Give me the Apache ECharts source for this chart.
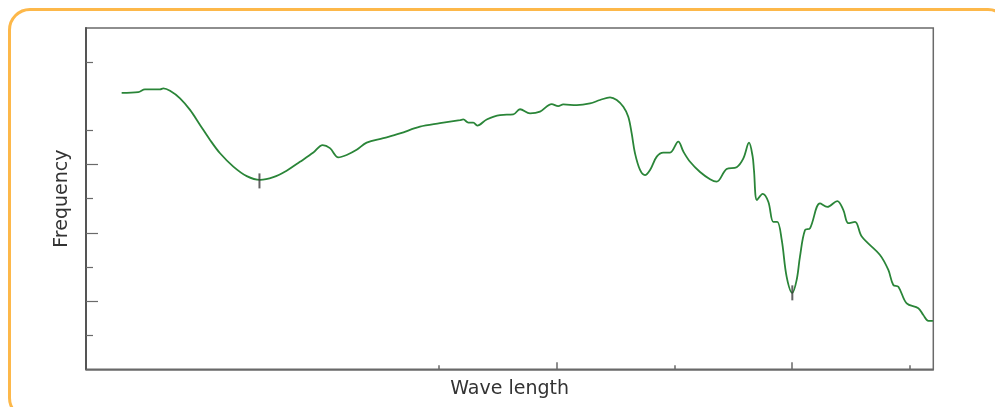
<!DOCTYPE html>
<html>
<head>
<meta charset="utf-8">
<script src="https://cdn.jsdelivr.net/npm/echarts@6/dist/echarts.min.js"></script>
<style>
html,body{margin:0;padding:0;background:#fff;overflow:hidden;}
#frame{position:absolute;left:8px;top:8px;width:1002px;height:412px;border:3px solid #FDB84A;border-radius:22px;box-sizing:border-box;}
#chart{position:absolute;left:0;top:0;width:995px;height:407px;}
</style>
</head>
<body>
<div id="frame"></div>
<div id="chart"></div>
<script>
// Spectrum trace: wave length (x) vs frequency (y)
const waveLength = [30.3,44.4,50.1,62.9,65.7,71.4,79.9,88.4,96.9,105.4,113.9,125.2,136.6,147.9,159.2,170.5,181.8,193.2,201.1,207.3,214.4,221.5,230.0,238.5,252.6,266.8,283.8,300.8,317.8,320.6,324.9,329.1,332.5,340.5,351.8,363.1,368.8,377.3,385.8,395.7,401.3,405.6,417.0,428.3,436.8,445.3,451.0,456.6,460.8,463.7,466.5,470.8,475.0,479.3,485.0,490.6,496.3,503.3,507.6,513.3,521.8,530.3,535.9,544.4,552.9,558.6,563.4,566.5,567.6,570.2,575.0,579.8,584.0,587.4,591.2,595.4,600.2,603.9,606.7,611.0,615.2,623.7,629.9,638.4,643.5,647.8,653.5,659.2,674.7,681.8,686.0,690.3,697.4,707.3,711.5,715.8,719.7];
const frequency = [81.0,81.2,82.0,82.0,82.3,81.6,79.4,76.0,71.6,67.2,63.3,59.4,56.6,55.5,56.3,58.2,60.8,63.5,65.7,64.8,62.1,62.8,64.3,66.4,67.7,69.1,71.1,72.1,73.0,73.2,72.3,72.3,71.4,73.2,74.5,74.7,76.2,75.0,75.5,77.7,77.1,77.6,77.4,77.9,78.9,79.7,78.9,76.9,74.0,69.1,63.3,58.4,56.9,58.4,62.3,63.5,63.5,66.7,63.8,60.8,57.8,55.7,55.0,58.7,59.2,61.8,66.4,62.3,58.4,49.6,51.4,49.1,43.2,43.2,37.9,27.1,22.4,26.2,33.0,40.8,41.3,48.6,47.6,49.3,46.7,42.8,43.2,38.9,33.5,29.1,24.7,24.2,19.3,17.9,15.9,14.2,14.2];
const markerX = [147.4, 600.2];
const markerY = [55.2, 22.4];
const xMajorTicks = [400, 600];
const xMinorTicks = [300, 500, 700];
const yMajorTicks = [20, 40, 60];
const yMinorTicks = [10, 30, 50, 70, 90];
const xName = 'Wave length';
const yName = 'Frequency';

const lineData = waveLength.map((x, i) => [x, frequency[i]]);
const markData = markerX.map((x, i) => [x, markerY[i]]);

const chart = echarts.init(document.getElementById('chart'), null, {renderer: 'canvas'});
const axisCol = '#6a6a6a';
const txt = {fontFamily: 'DejaVu Sans', fontSize: 19, color: '#333'};
chart.setOption({
  animation: false,
  grid: {left: 86, top: 28, right: 61.7, bottom: 37.7, show: true, borderColor: axisCol, borderWidth: 1.5},
  xAxis: [
    {type: 'value', min: 0, max: 720, position: 'bottom', splitLine: {show: false},
     axisLine: {show: true, lineStyle: {color: axisCol, width: 1.5}},
     axisTick: {show: true, inside: true, length: 7, customValues: xMajorTicks, lineStyle: {color: axisCol, width: 1.5}},
     axisLabel: {show: false},
     name: xName, nameLocation: 'middle', nameGap: 10, nameTextStyle: Object.assign({verticalAlign: 'top'}, txt)},
    {type: 'value', min: 0, max: 720, position: 'bottom', splitLine: {show: false},
     axisLine: {show: false},
     axisTick: {show: true, inside: true, length: 4, customValues: xMinorTicks, lineStyle: {color: axisCol, width: 1.5}},
     axisLabel: {show: false}}
  ],
  yAxis: [
    {type: 'value', min: 0, max: 100, position: 'left', splitLine: {show: false},
     axisLine: {show: true, lineStyle: {color: '#555', width: 2}},
     axisTick: {show: true, inside: true, length: 12, customValues: yMajorTicks, lineStyle: {color: axisCol, width: 1.2}},
     axisLabel: {show: false},
     name: yName, nameLocation: 'middle', nameGap: 14, nameRotate: 90, nameTextStyle: Object.assign({verticalAlign: 'bottom'}, txt)},
    {type: 'value', min: 0, max: 100, position: 'left', splitLine: {show: false},
     axisLine: {show: false},
     axisTick: {show: true, inside: true, length: 7, customValues: yMinorTicks, lineStyle: {color: axisCol, width: 1.2}},
     axisLabel: {show: false}}
  ],
  series: [
    {type: 'line', data: lineData, xAxisIndex: 0, yAxisIndex: 0, showSymbol: false, smooth: 0.35,
     lineStyle: {color: '#2a8538', width: 1.8}},
    {type: 'scatter', data: markData, xAxisIndex: 0, yAxisIndex: 0, symbol: 'rect', symbolSize: [2, 15],
     itemStyle: {color: '#3c3c3c'}, z: 5}
  ]
});
</script>
</body>
</html>
